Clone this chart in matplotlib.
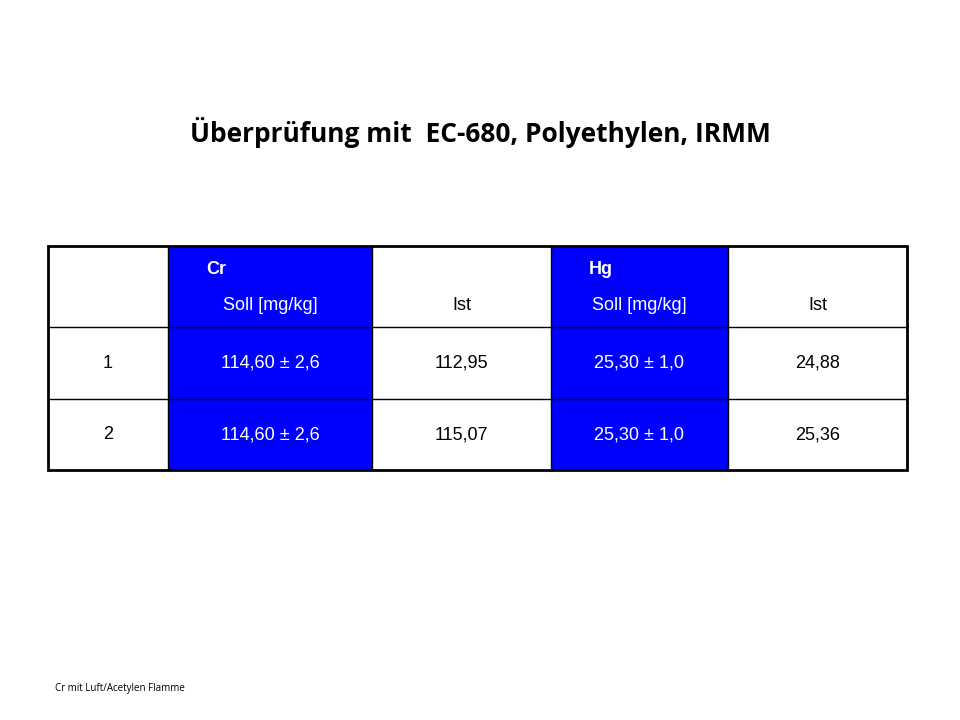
import matplotlib.pyplot as plt
from matplotlib.patches import Rectangle

TITLE = "Überprüfung mit  EC-680, Polyethylen, IRMM"
FOOTNOTE = "Cr mit Luft/Acetylen Flamme"
HEADER_ELEMENT = ["", "Cr", "", "Hg", ""]
HEADER_LABEL = ["", "Soll [mg/kg]", "Ist", "Soll [mg/kg]", "Ist"]
ROW_IDS = ["1", "2"]
CR_SOLL = ["114,60 ± 2,6", "114,60 ± 2,6"]
CR_IST = ["112,95", "115,07"]
HG_SOLL = ["25,30 ± 1,0", "25,30 ± 1,0"]
HG_IST = ["24,88", "25,36"]

BLUE_COLS = {1, 3}
COL_EDGES = [48, 168, 372, 551, 728, 907]
ROW_EDGES = [246, 327, 399, 470]

fig = plt.figure(figsize=(9.6, 7.2), dpi=100)
ax = fig.add_axes([0, 0, 1, 1])
ax.set_xlim(0, 960)
ax.set_ylim(720, 0)
ax.axis("off")

ax.text(480, 133, TITLE, ha="center", va="center", fontsize=19,
        fontweight="bold", family="Open Sans")

for c in BLUE_COLS:
    ax.add_patch(Rectangle((COL_EDGES[c], ROW_EDGES[0]), COL_EDGES[c + 1] - COL_EDGES[c],
                           ROW_EDGES[-1] - ROW_EDGES[0], color="#0000ff", lw=0))

for y in ROW_EDGES[1:-1]:
    ax.plot([COL_EDGES[0], COL_EDGES[-1]], [y, y], color="black", lw=1)
for x in COL_EDGES[1:-1]:
    ax.plot([x, x], [ROW_EDGES[0], ROW_EDGES[-1]], color="black", lw=1)
ax.add_patch(Rectangle((COL_EDGES[0], ROW_EDGES[0]), COL_EDGES[-1] - COL_EDGES[0],
                       ROW_EDGES[-1] - ROW_EDGES[0], fill=False, ec="black", lw=2))

font = dict(family="Liberation Sans", fontsize=13)
for c in range(5):
    col = "white" if c in BLUE_COLS else "black"
    cx = (COL_EDGES[c] + COL_EDGES[c + 1]) / 2
    if HEADER_ELEMENT[c]:
        ax.text(COL_EDGES[c] + 38, 270, HEADER_ELEMENT[c], color=col, va="center",
                ha="left", fontweight="bold", **font)
    if HEADER_LABEL[c]:
        ax.text(cx, 305, HEADER_LABEL[c], color=col, va="center", ha="center", **font)

columns = [ROW_IDS, CR_SOLL, CR_IST, HG_SOLL, HG_IST]
for r in range(len(ROW_IDS)):
    cy = (ROW_EDGES[r + 1] + ROW_EDGES[r + 2]) / 2
    for c, vals in enumerate(columns):
        col = "white" if c in BLUE_COLS else "black"
        cx = (COL_EDGES[c] + COL_EDGES[c + 1]) / 2
        ax.text(cx, cy, vals[r], color=col, va="center", ha="center", **font)

ax.text(55, 688, FOOTNOTE, fontsize=7, family="Open Sans", va="center", ha="left")

fig.savefig("out.png", dpi=100)
